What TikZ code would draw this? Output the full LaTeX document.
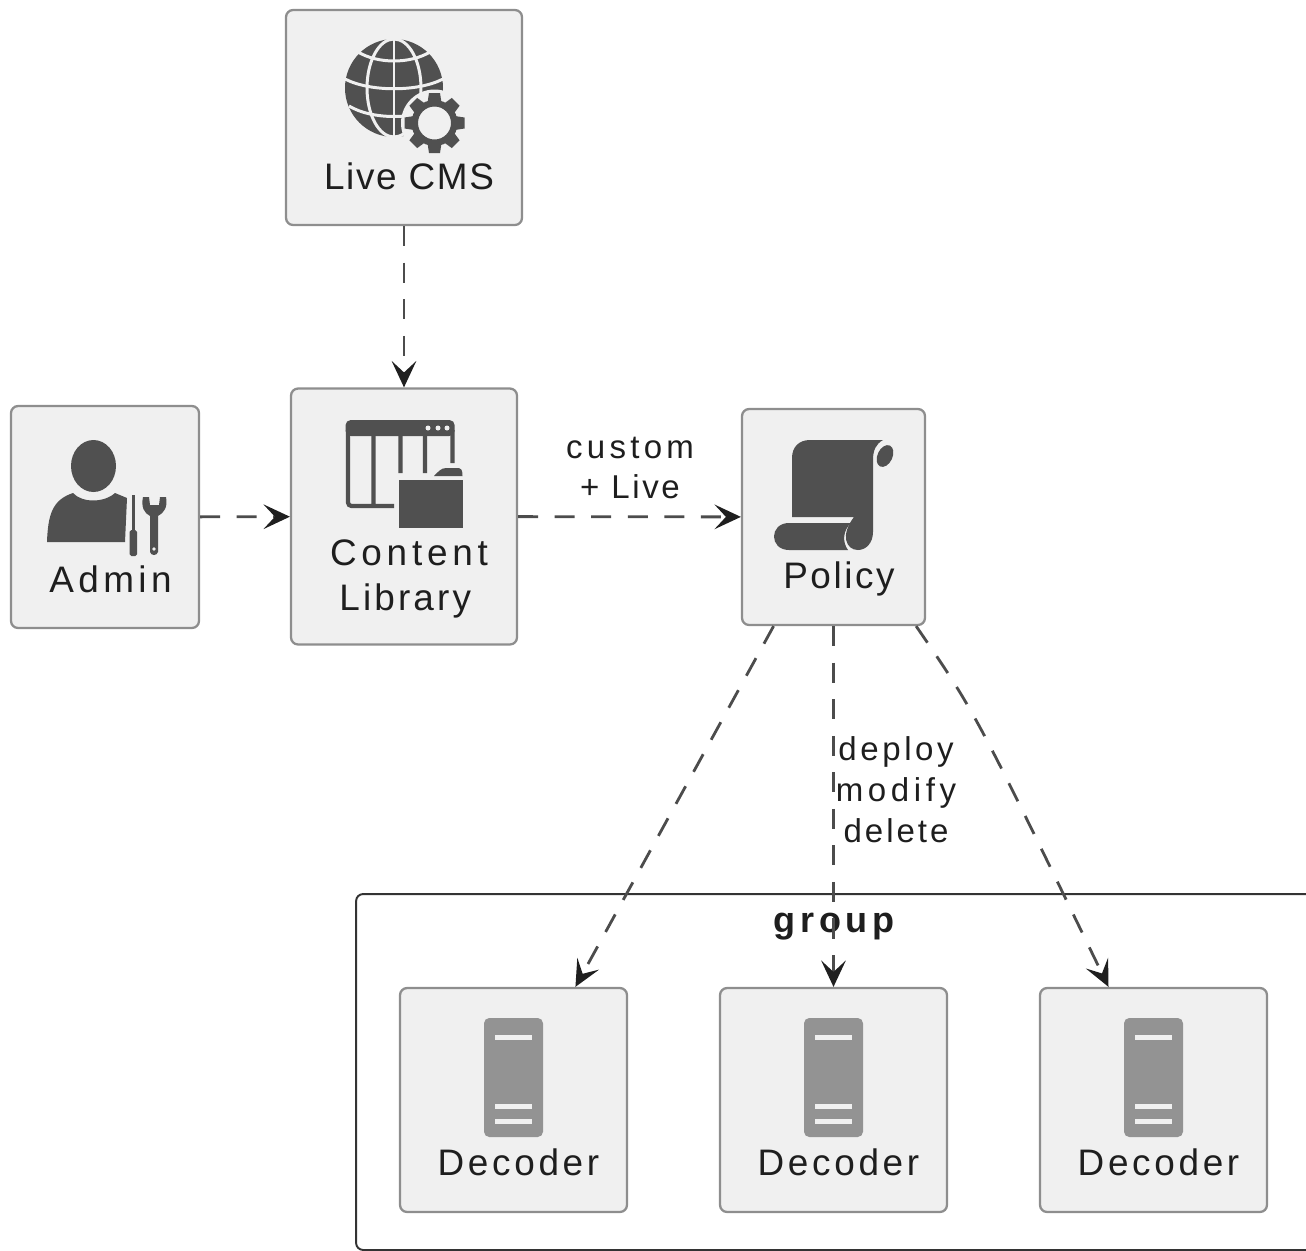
\documentclass[tikz,border=0pt]{standalone}
\usepackage{fontspec}
\setmainfont{Liberation Sans}
\usetikzlibrary{arrows.meta}
\definecolor{boxfill}{HTML}{F0F0F0}
\definecolor{boxline}{HTML}{8E8E8E}
\definecolor{iconfill}{HTML}{505050}
\definecolor{serverfill}{HTML}{939393}
\definecolor{textcol}{HTML}{1E1E1E}
\newcommand{\track}[1]{\addfontfeature{LetterSpace=#1}}
\tikzset{
  box/.style={draw=boxline,fill=boxfill,line width=1.3pt,rounded corners=4pt,inner sep=0pt},
  groupbox/.style={draw=black!80,line width=1.1pt,rounded corners=4pt,inner sep=0pt},
  boxlabel/.style={text=textcol,inner sep=0pt,align=center,font=\fontsize{21}{25.8}\selectfont},
  edgelabel/.style={text=textcol,inner sep=0pt,align=center,font=\fontsize{18.8}{22.5}\selectfont},
  flow/.style={draw=black!70,line width=1.6pt,dash pattern=on 11.4pt off 9.4pt,
    -{Stealth[length=15pt,width=14pt,inset=6.5pt,color=black!88]}},
  icon/.style={fill=iconfill,draw=none},
  cut/.style={draw=boxfill,line width=1.7pt}
}
\begin{document}
\begin{tikzpicture}[x=0.02cm,y=-0.02cm]
  \useasboundingbox (0,0) rectangle (1306,1251);
  \clip (0,0) rectangle (1306,1251);
  \node[groupbox,minimum width=19.68cm,minimum height=7.12cm] (group) at (848,1072) {};
  \node[box,minimum width=4.72cm,minimum height=4.30cm] (cms) at (404,117.5) {};
  \node[box,minimum width=4.52cm,minimum height=5.12cm] (library) at (404,516.5) {};
  \node[box,minimum width=3.76cm,minimum height=4.44cm] (admin) at (105,517) {};
  \node[box,minimum width=3.66cm,minimum height=4.32cm] (policy) at (833.5,517) {};
  \foreach \n/\cx in {1/513.5,2/833.5,3/1153.5}{
    \node[box,minimum width=4.54cm,minimum height=4.48cm] (dec\n) at (\cx,1100) {};
    \fill[serverfill,rounded corners=3pt] (\cx-29.5,1137) -- (\cx-29.5,1018) -- (\cx+29.5,1018) -- (\cx+29.5,1137) -- cycle;
    \foreach \y in {1037,1106,1121}
      \fill[boxfill] (\cx-18.5,\y-2.5) rectangle (\cx+18.5,\y+2.5);
    \node[boxlabel,anchor=base] (declabel\n) at (\cx+5,1175) {\track{10}Decoder};
  }
  \fill[icon] (394,88) circle[radius=49];
  \draw[cut] (394,39) -- (394,137);
  \draw[cut] (394,88) ellipse[x radius=27,y radius=49];
  \draw[cut] (358,52) .. controls (378,64) and (410,64) .. (430,52);
  \draw[cut] (345,79) .. controls (370,92) and (418,92) .. (443,79);
  \draw[cut] (349,106) .. controls (372,120) and (416,120) .. (439,106);
  \fill[boxfill] (434.5,123) circle[radius=33.5];
  \foreach \a in {0,45,...,315}
    \fill[icon,rotate around={\a:(434.5,123)}] (429,93) -- (440,93) -- (442,106) -- (427,106) -- cycle;
  \fill[icon,even odd rule] (434.5,123) circle[radius=23] (434.5,123) circle[radius=16.5];
  \node[boxlabel,anchor=base] (cmslabel) at (409,189) {\track{4.5}Live CMS};
  \fill[icon] (93.5,466) ellipse[x radius=22.5,y radius=26];
  \fill[icon] (47,542) .. controls (48,515) and (52,500) .. (73,493) .. controls (82,503) and (104,503) .. (115,493) -- (127,498) -- (125,542) -- cycle;
  \fill[icon] (132,495) rectangle (134.5,530);
  \fill[icon,rounded corners=1pt] (129.5,530) rectangle (137,556);
  \fill[icon] (143,497) .. controls (141,507) and (144,513) .. (150,516) -- (150,552) .. controls (151,556) and (157,556) .. (158,552) -- (158,516) .. controls (164,513) and (168,507) .. (166,497) -- (160,497) -- (159,505) -- (150,505) -- (149,497) -- cycle;
  \fill[boxfill] (154,549) circle[radius=1.8];
  \node[boxlabel,anchor=base] (adminlabel) at (110.5,592.5) {\track{12}Admin};
  \draw[draw=iconfill,line width=2.4pt,rounded corners=2pt] (425,473) -- (425,430) (400.5,473) -- (400.5,430) (394,506) -- (348,506) -- (348,430) (373.5,506) -- (373.5,430) (452.5,463) -- (452.5,430);
  \fill[icon,rounded corners=3pt] (345.5,436) -- (345.5,420) -- (454.7,420) -- (454.7,436) -- cycle;
  \foreach \x in {428,438,447}
    \fill[boxfill] (\x,428) circle[radius=2.5];
  \fill[icon] (399,480) rectangle (462.5,528);
  \fill[icon] (434,476) .. controls (438,472) and (441,468) .. (446,468) -- (459,468) .. controls (461,468) and (462.5,470) .. (462.5,476) -- cycle;
  \node[boxlabel] (librarylabel) at (409,579) {\track{13}Content\\\track{8.5}Library\hspace*{0.15cm}};
  \fill[icon] (792,517) -- (792,458) .. controls (792,447) and (799,440) .. (810,440) -- (883,440) .. controls (876,444) and (873,450) .. (873,460) -- (873,532) .. controls (873,543) and (866,550) .. (858,550) .. controls (846,550) and (840,535) .. (854,517) -- cycle;
  \fill[icon] (789,523) -- (851,523) .. controls (843,530) and (842,542) .. (848,550) -- (789,550) .. controls (769,550) and (769,523) .. (789,523) -- cycle;
  \fill[icon,rotate around={-25:(885,456)}] (885,456) ellipse[x radius=7.5,y radius=11.5];
  \node[boxlabel,anchor=base] (policylabel) at (839,588) {\track{7}Policy};
  \node[edgelabel,font=\fontsize{20.5}{24}\selectfont\bfseries,anchor=base] (grouplabel) at (834,932) {\track{13}group};
  \draw[flow] (cms) -- (library);
  \draw[flow] (admin) -- (library);
  \draw[flow] (library) -- (policy);
  \draw[flow] (policy) -- (dec1);
  \draw[flow] (policy) -- (dec2);
  \draw[flow] ([xshift=-0.2cm]policy.south east) .. controls (975,712) .. ([xshift=-0.9cm]dec3.north);
  \node[edgelabel] (customlabel) at (630,468) {\track{13}custom\\\track{8}+ Live};
  \node[edgelabel,font=\fontsize{18.8}{23.3}\selectfont] (deploylabel) at (896,790) {\track{11}deploy\\\track{14}modify\\\track{9}delete};
\end{tikzpicture}
\end{document}
